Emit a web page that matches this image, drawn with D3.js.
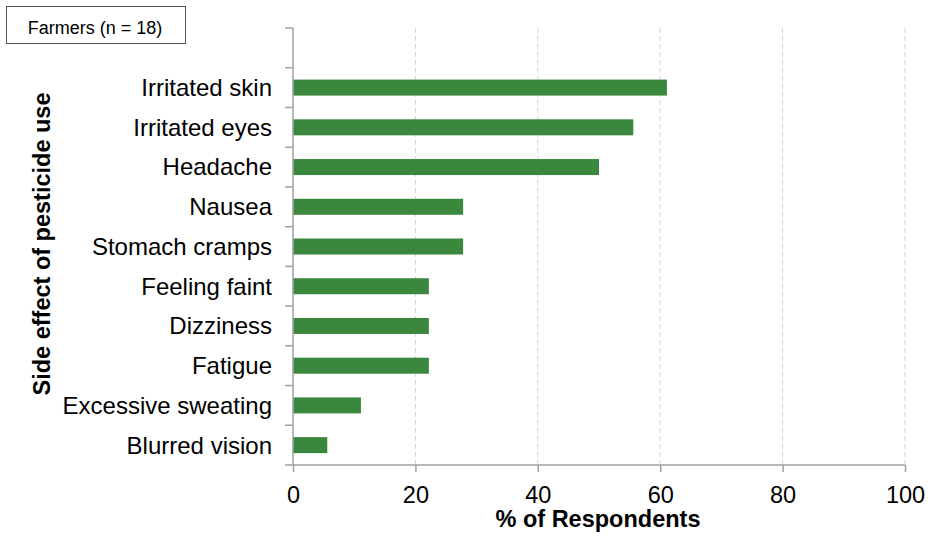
<!DOCTYPE html>
<html>
<head>
<meta charset="utf-8">
<script src="https://cdn.jsdelivr.net/npm/d3@7"></script>
<style>
  html, body { margin: 0; padding: 0; background: #fff; }
  svg { display: block; font-family: "Liberation Sans", Arial, sans-serif; }
</style>
</head>
<body>
<svg id="chart" width="928" height="544"></svg>
<script>
// Reported side effects of pesticide use among farmers (n = 18)
const categories = [
  "Irritated skin", "Irritated eyes", "Headache", "Nausea", "Stomach cramps",
  "Feeling faint", "Dizziness", "Fatigue", "Excessive sweating", "Blurred vision"
];
const percents = [61.1, 55.6, 50.0, 27.8, 27.8, 22.2, 22.2, 22.2, 11.1, 5.6];
const xTicks = [0, 20, 40, 60, 80, 100];
const legendText = "Farmers (n = 18)";
const xTitle = "% of Respondents";
const yTitle = "Side effect of pesticide use";

const svg = d3.select("#chart");
const axisColor = "#a0a0a0";
const barColor = "#3a873d";
const labelSize = 24;
const tickSize = 23.5;

const plotLeft = 293, plotRight = 905, plotTop = 28, plotBottom = 465;
const x = d3.scaleLinear().domain([0, 100]).range([plotLeft, plotRight]);

// One empty band sits above the first category
const bandStep = (plotBottom - plotTop) / (categories.length + 1);
const y = d3.scaleBand().domain(categories)
  .range([plotTop + bandStep, plotBottom]).paddingInner(0).paddingOuter(0);
const barH = 16;

// Vertical dashed gridlines
svg.append("g").selectAll("line")
  .data(xTicks.filter(t => t > 0))
  .join("line")
  .attr("x1", d => x(d)).attr("x2", d => x(d))
  .attr("y1", plotTop).attr("y2", plotBottom)
  .attr("stroke", "#d4d4d4").attr("stroke-width", 1)
  .attr("stroke-dasharray", "5,3");

// Bars
svg.append("g").selectAll("rect")
  .data(categories)
  .join("rect")
  .attr("x", x(0))
  .attr("y", d => y(d) + (y.bandwidth() - barH) / 2)
  .attr("width", (d, i) => x(percents[i]) - x(0))
  .attr("height", barH)
  .attr("fill", barColor);

// X axis
const xAxis = d3.axisBottom(x).tickValues(xTicks).tickSize(7).tickPadding(14)
  .tickFormat(d3.format("d"));
const gx = svg.append("g").attr("transform", `translate(0,${plotBottom})`).call(xAxis);
gx.select(".domain").attr("stroke", axisColor).attr("stroke-width", 1.5)
  .attr("d", `M${plotLeft - 8},0H${plotRight}`);
gx.selectAll(".tick line").attr("stroke", axisColor).attr("stroke-width", 1.5);
gx.selectAll(".tick text").attr("font-size", tickSize).attr("fill", "#000")
  .attr("font-family", "Liberation Sans, Arial, sans-serif");

// Y axis line with tick marks at band boundaries
const gy = svg.append("g");
gy.append("line").attr("x1", plotLeft).attr("x2", plotLeft)
  .attr("y1", plotTop).attr("y2", plotBottom)
  .attr("stroke", axisColor).attr("stroke-width", 1.5);
const boundaries = [plotTop].concat(categories.map(c => y(c)));
gy.selectAll("line.tk").data(boundaries).join("line").attr("class", "tk")
  .attr("x1", plotLeft - 8).attr("x2", plotLeft)
  .attr("y1", d => d).attr("y2", d => d)
  .attr("stroke", axisColor).attr("stroke-width", 1.5);

// Category labels
gy.selectAll("text").data(categories).join("text")
  .attr("x", plotLeft - 21)
  .attr("y", d => y(d) + y.bandwidth() / 2)
  .attr("dy", "0.35em")
  .attr("text-anchor", "end")
  .attr("font-size", labelSize)
  .attr("fill", "#000")
  .text(d => d);

// Axis titles
svg.append("text")
  .attr("x", 598).attr("y", 527)
  .attr("text-anchor", "middle")
  .attr("font-size", tickSize).attr("font-weight", "bold")
  .text(xTitle);

svg.append("text")
  .attr("transform", `translate(50,244) rotate(-90)`)
  .attr("text-anchor", "middle")
  .attr("font-size", tickSize).attr("font-weight", "bold")
  .text(yTitle);

// Legend box
svg.append("rect")
  .attr("x", 6.5).attr("y", 6.5).attr("width", 179).attr("height", 37)
  .attr("fill", "#fff").attr("stroke", "#555").attr("stroke-width", 1);
svg.append("text")
  .attr("x", 95).attr("y", 34)
  .attr("text-anchor", "middle")
  .attr("font-size", 18)
  .text(legendText);
</script>
</body>
</html>
